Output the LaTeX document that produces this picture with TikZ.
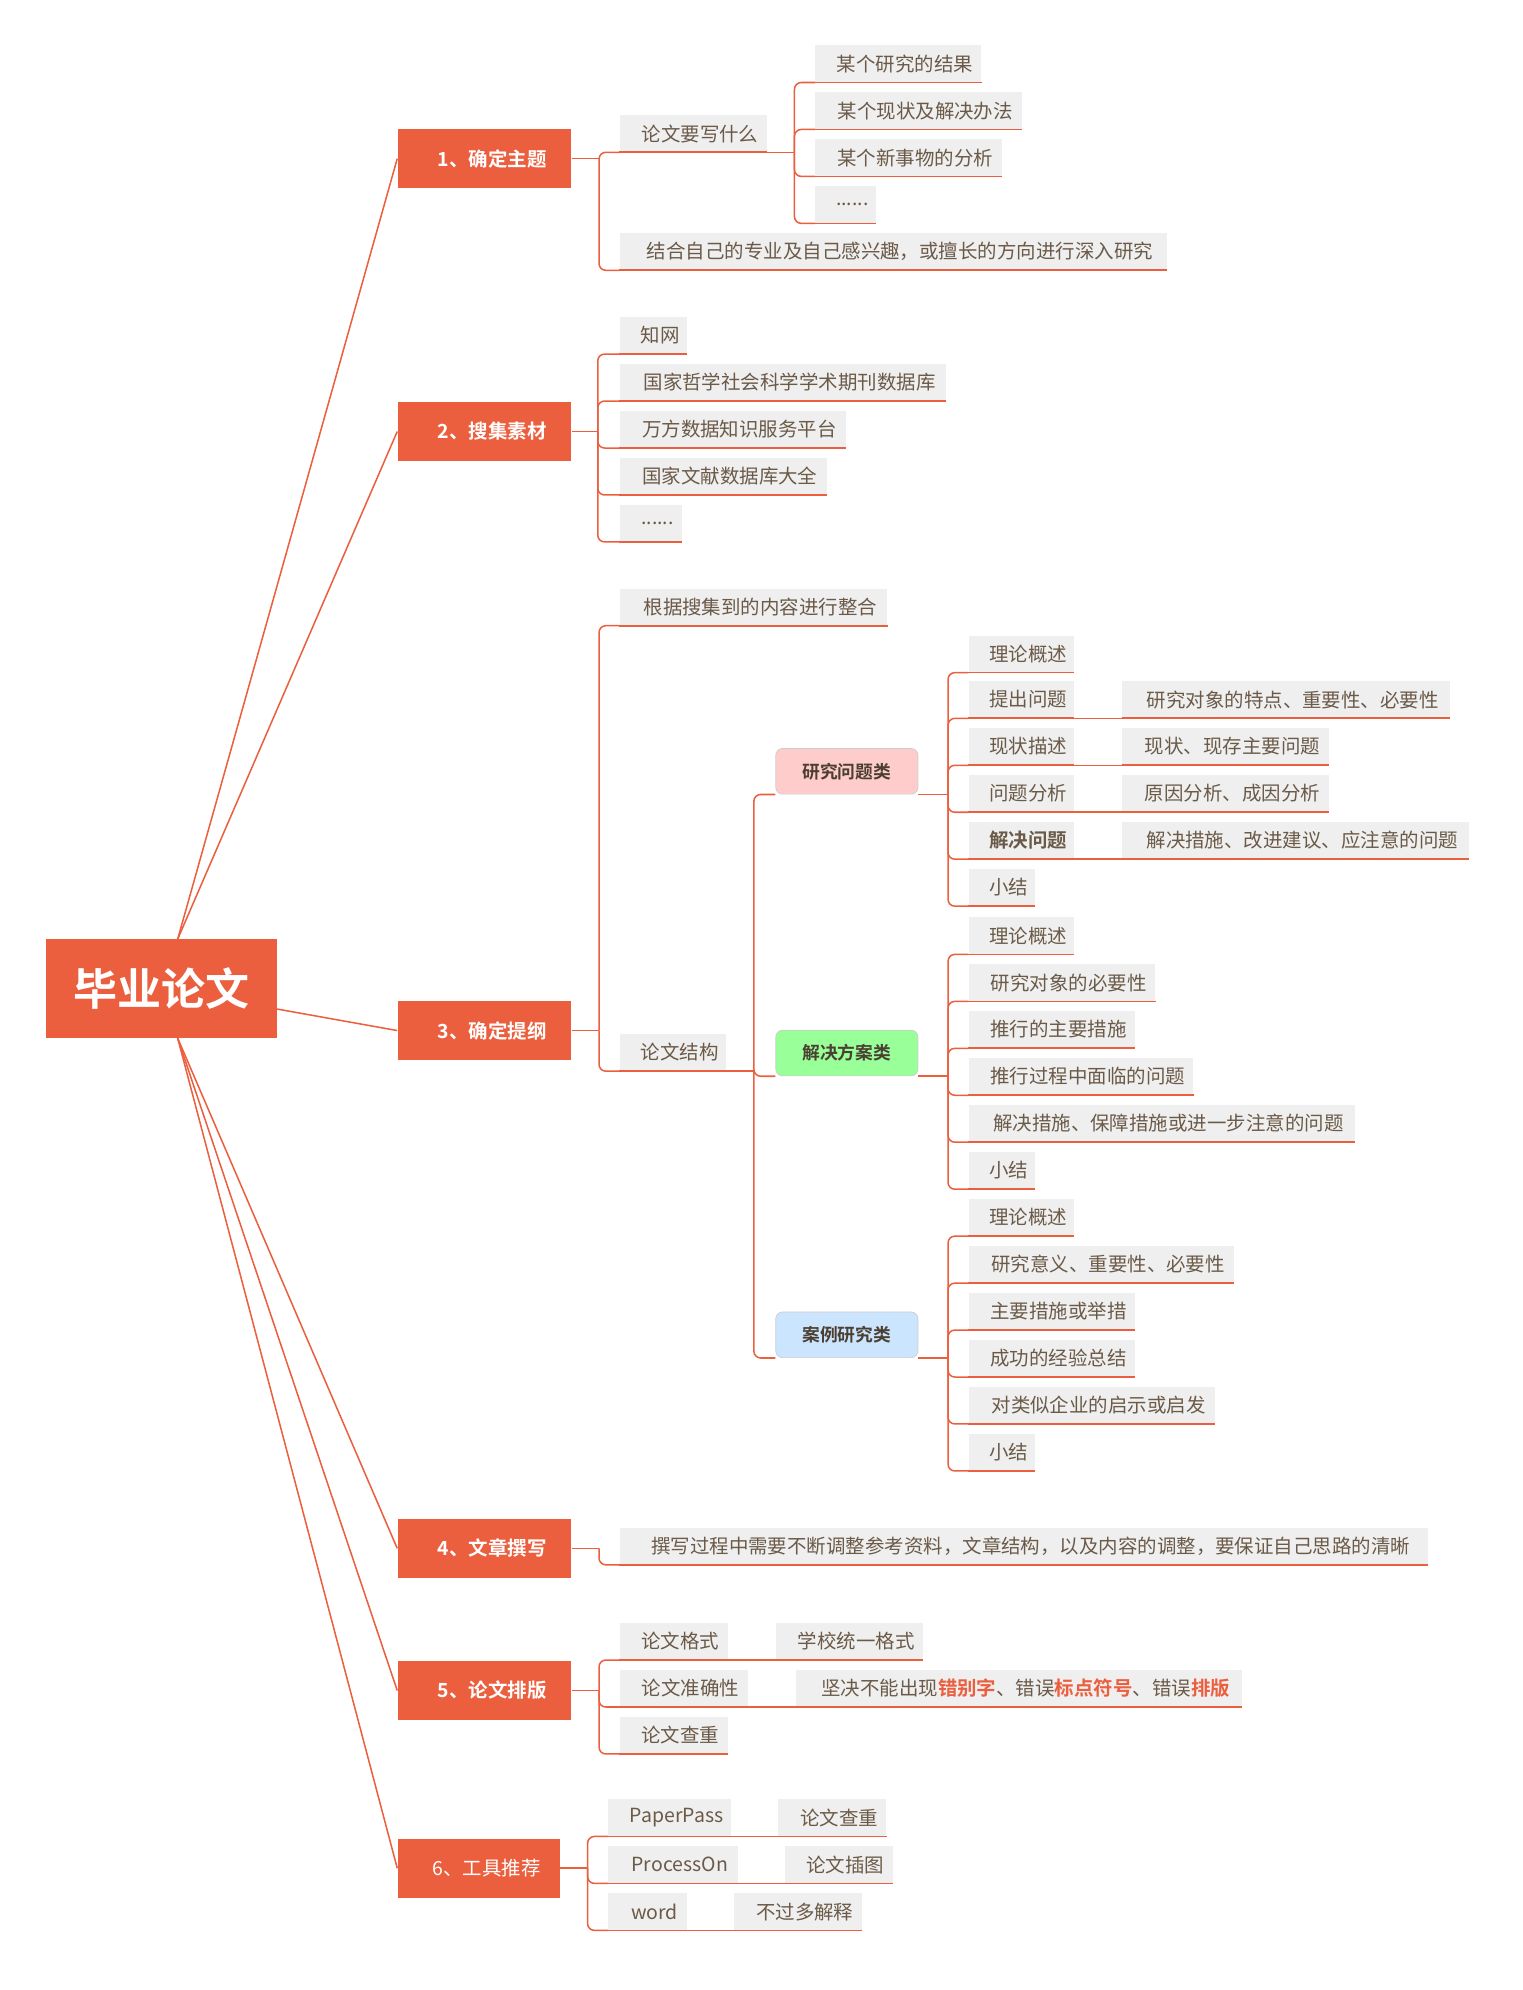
\documentclass[tikz,border=0pt]{standalone}
\usepackage{fontspec}
\setmainfont{Noto Sans CJK SC}
\newfontfamily\cjkb{Noto Sans CJK SC Bold}
\definecolor{org}{HTML}{EB5F3F}
\definecolor{lfill}{HTML}{EFEFEF}
\definecolor{ltxt}{HTML}{6B5A48}
\definecolor{pinkc}{HTML}{FFCCCC}
\definecolor{greenc}{HTML}{99FF99}
\definecolor{bluec}{HTML}{CCE5FF}
\tikzset{
 leaf/.style={fill=lfill,text=ltxt,font=\fontsize{11.5}{13}\selectfont,inner sep=0pt,minimum height=21.75pt,anchor=south west},
 topic/.style={fill=org,text=white,font=\cjkb\fontsize{11.5}{13}\selectfont,inner sep=0pt,minimum height=35pt,minimum width=102.75pt,anchor=west},
 cat/.style={draw=gray!40,rounded corners=4pt,text=ltxt!70!black,font=\cjkb\fontsize{10.5}{12}\selectfont,inner sep=0pt,minimum height=27pt,minimum width=84pt,anchor=south west},
 conn/.style={draw=org,line width=0.9pt},
 bconn/.style={draw=org,line width=0.9pt,rounded corners=4pt},
 uline/.style={draw=org,line width=1pt},
}
\newcommand{\lf}[6][]{%
 \pgfmathsetmacro\wdt{(#4-#3)*0.75}%
 \node[leaf,minimum width=\wdt pt,#1] (#2) at (#3,#5) {\hspace*{8pt}#6\hfill};
 \draw[uline] (#2.south west)--(#2.south east);}
\newcommand{\kid}[2]{\draw[bconn] (#1) |- (#2.south west);}
\begin{document}
\begin{tikzpicture}[x=0.75pt,y=-0.75pt]
\useasboundingbox (0,0) rectangle (1200,1568);
% root
\node[fill=org,text=white,font=\cjkb\fontsize{26}{30}\selectfont,minimum width=136.5pt,minimum height=58.5pt,inner sep=0pt] (root) at (127,779) {毕业论文};
\coordinate (rt) at (140,740);
\coordinate (rr) at (218,795);
\coordinate (rb) at (140,818);
% topics
\node[topic] (t1) at (313,125) {\hspace*{9pt}1、确定主题\hfill};
\node[topic] (t2) at (313,340) {\hspace*{9pt}2、搜集素材\hfill};
\node[topic] (t3) at (313,812) {\hspace*{9pt}3、确定提纲\hfill};
\node[topic] (t4) at (313,1220) {\hspace*{9pt}4、文章撰写\hfill};
\node[topic] (t5) at (313,1332) {\hspace*{9pt}5、论文排版\hfill};
\node[topic,minimum width=96pt,font=\fontsize{11.5}{13}\selectfont] (t6) at (313,1472) {\hspace*{9pt}6、工具推荐\hfill};
\draw[conn] (rt)--(t1.west); \draw[conn] (rt)--(t2.west);
\draw[conn] (rr)--(t3.west);
\draw[conn] (rb)--(t4.west); \draw[conn] (rb)--(t5.west); \draw[conn] (rb)--(t6.west);
% T1
\lf{a1}{488}{604}{120}{论文要写什么}
\lf{a2}{488}{919}{213}{结合自己的专业及自己感兴趣，或擅长的方向进行深入研究}
\coordinate (b1) at (472,125); \draw[conn] (t1.east)--(b1);
\kid{b1}{a1}\kid{b1}{a2}
\lf{a11}{642}{773}{65}{某个研究的结果}
\lf{a12}{642}{805}{102}{某个现状及解决办法}
\lf{a13}{642}{789}{139}{某个新事物的分析}
\lf{a14}{642}{690}{176}{......}
\coordinate (b11) at (626,120); \draw[conn] (a1.south east)--(b11);
\kid{b11}{a11}\kid{b11}{a12}\kid{b11}{a13}\kid{b11}{a14}
% T2
\lf{c1}{488}{541}{279}{知网}
\lf{c2}{488}{745}{316}{国家哲学社会科学学术期刊数据库}
\lf{c3}{488}{666}{353}{万方数据知识服务平台}
\lf{c4}{488}{651}{390}{国家文献数据库大全}
\lf{c5}{488}{537}{427}{......}
\coordinate (b2) at (471,340); \draw[conn] (t2.east)--(b2);
\kid{b2}{c1}\kid{b2}{c2}\kid{b2}{c3}\kid{b2}{c4}\kid{b2}{c5}
% T3
\lf{d1}{488}{699}{493}{根据搜集到的内容进行整合}
\lf{d2}{488}{572}{844}{论文结构}
\coordinate (b3) at (472,812); \draw[conn] (t3.east)--(b3);
\kid{b3}{d1}\kid{b3}{d2}
\node[cat,fill=pinkc] (k1) at (611,626) {研究问题类};
\node[cat,fill=greenc] (k2) at (611,848) {解决方案类};
\node[cat,fill=bluec] (k3) at (611,1070) {案例研究类};
\coordinate (bd) at (594,844); \draw[conn] (d2.south east)--(bd);
\kid{bd}{k1}\kid{bd}{k2}\kid{bd}{k3}
% k1
\lf{e1}{763}{846}{530}{理论概述}
\lf{e2}{763}{846}{566}{提出问题}
\lf{e3}{763}{846}{603}{现状描述}
\lf{e4}{763}{846}{640}{问题分析}
\lf{e5}{763}{846}{677}{\cjkb 解决问题}
\lf{e6}{763}{815}{714}{小结}
\coordinate (be) at (747,626); \draw[conn] (k1.south east)--(be);
\kid{be}{e1}\kid{be}{e2}\kid{be}{e3}\kid{be}{e4}\kid{be}{e5}\kid{be}{e6}
\lf{f2}{884}{1142}{566}{研究对象的特点、重要性、必要性}
\lf{f3}{884}{1047}{603}{现状、现存主要问题}
\lf{f4}{884}{1047}{640}{原因分析、成因分析}
\lf{f5}{884}{1157}{677}{解决措施、改进建议、应注意的问题}
\draw[conn] (e2.south east)--(f2.south west);
\draw[conn] (e3.south east)--(f3.south west);
\draw[conn] (e4.south east)--(f4.south west);
\draw[conn] (e5.south east)--(f5.south west);
% k2
\lf{g1}{763}{846}{752}{理论概述}
\lf{g2}{763}{910}{789}{研究对象的必要性}
\lf{g3}{763}{894}{826}{推行的主要措施}
\lf{g4}{763}{940}{863}{推行过程中面临的问题}
\lf{g5}{763}{1067}{900}{解决措施、保障措施或进一步注意的问题}
\lf{g6}{763}{815}{937}{小结}
\coordinate (bg) at (747,848); \draw[conn] (k2.south east)--(bg);
\kid{bg}{g1}\kid{bg}{g2}\kid{bg}{g3}\kid{bg}{g4}\kid{bg}{g5}\kid{bg}{g6}
% k3
\lf{h1}{763}{846}{974}{理论概述}
\lf{h2}{763}{972}{1011}{研究意义、重要性、必要性}
\lf{h3}{763}{894}{1048}{主要措施或举措}
\lf{h4}{763}{894}{1085}{成功的经验总结}
\lf{h5}{763}{957}{1122}{对类似企业的启示或启发}
\lf{h6}{763}{815}{1159}{小结}
\coordinate (bh) at (747,1070); \draw[conn] (k3.south east)--(bh);
\kid{bh}{h1}\kid{bh}{h2}\kid{bh}{h3}\kid{bh}{h4}\kid{bh}{h5}\kid{bh}{h6}
% T4
\lf{i1}{488}{1125}{1233}{撰写过程中需要不断调整参考资料，文章结构，以及内容的调整，要保证自己思路的清晰}
\coordinate (b4) at (472,1220); \draw[conn] (t4.east)--(b4); \kid{b4}{i1}
% T5
\lf{j1}{488}{573}{1308}{论文格式}
\lf{j2}{488}{589}{1345}{论文准确性}
\lf{j3}{488}{573}{1382}{论文查重}
\coordinate (b5) at (472,1332); \draw[conn] (t5.east)--(b5);
\kid{b5}{j1}\kid{b5}{j2}\kid{b5}{j3}
\lf{j1r}{611}{727}{1308}{学校统一格式}
\lf{j2r}{627}{978}{1345}{坚决不能出现{\cjkb\color{org}错别字}、错误{\cjkb\color{org}标点符号}、错误{\cjkb\color{org}排版}}
\draw[conn] (j1.south east)--(j1r.south west);
\draw[conn] (j2.south east)--(j2r.south west);
% T6
\lf{m1}{479}{576}{1447}{PaperPass}
\lf{m2}{479}{581}{1484}{ProcessOn}
\lf{m3}{479}{541}{1521}{word}
\coordinate (b6) at (463,1472); \draw[conn] (t6.east)--(b6);
\kid{b6}{m1}\kid{b6}{m2}\kid{b6}{m3}
\lf{m1r}{613}{698}{1447}{论文查重}
\lf{m2r}{618}{703}{1484}{论文插图}
\lf{m3r}{578}{679}{1521}{不过多解释}
\draw[conn] (m1.south east)--(m1r.south west);
\draw[conn] (m2.south east)--(m2r.south west);
\draw[conn] (m3.south east)--(m3r.south west);
\end{tikzpicture}
\end{document}
